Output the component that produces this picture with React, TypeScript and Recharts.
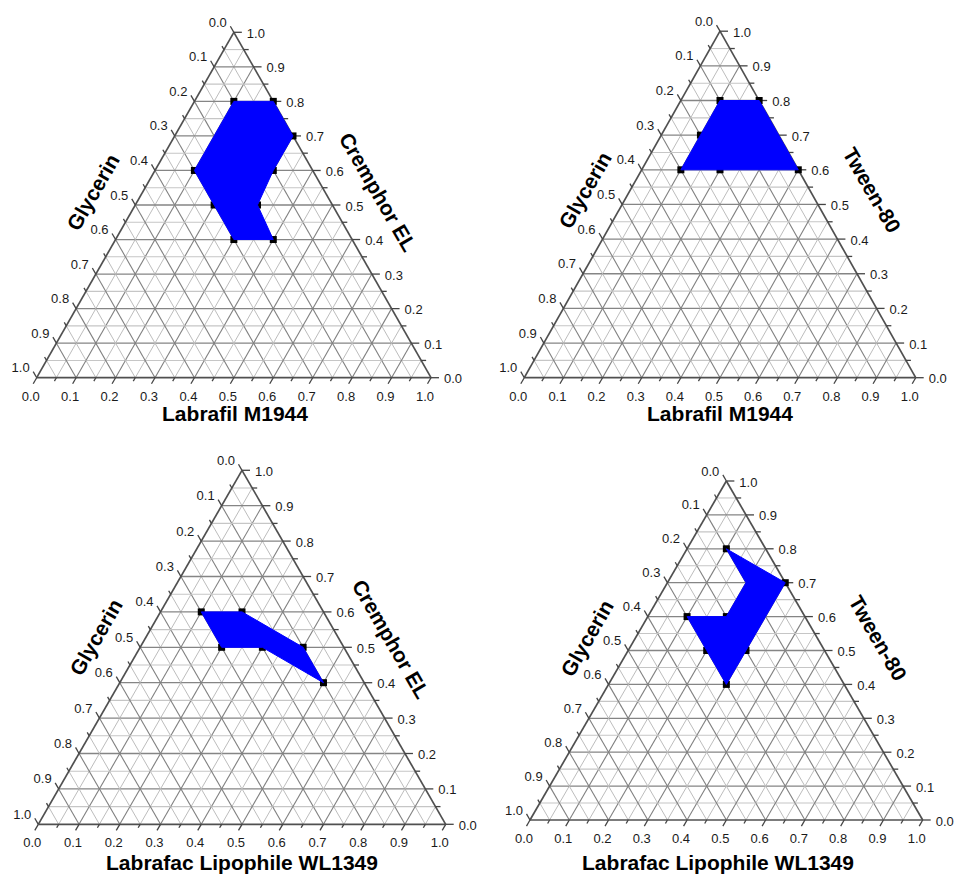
import React from 'react';
import { ScatterChart, Scatter, XAxis, YAxis } from 'recharts';

// ---------- data ----------
const TICK_VALUES = [0, 0.05, 0.1, 0.15, 0.2, 0.25, 0.3, 0.35, 0.4, 0.45, 0.5, 0.55, 0.6, 0.65, 0.7, 0.75, 0.8, 0.85, 0.9, 0.95, 1];
const TICK_LABELS = ['0.0', '0.1', '0.2', '0.3', '0.4', '0.5', '0.6', '0.7', '0.8', '0.9', '1.0'];

const OIL_1 = 'Labrafil M1944';
const OIL_2 = 'Labrafac Lipophile WL1349';
const SURF_1 = 'Cremphor EL';
const SURF_2 = 'Tween-80';
const COSURF = 'Glycerin';

type Comp = { oil: number; surf: number };

// Panel A: Labrafil M1944 / Cremphor EL / Glycerin
const REGION_A: Comp[] = [
  { oil: 0.1, surf: 0.8 }, { oil: 0.2, surf: 0.8 }, { oil: 0.3, surf: 0.7 }, { oil: 0.3, surf: 0.6 },
  { oil: 0.31, surf: 0.5 }, { oil: 0.4, surf: 0.4 }, { oil: 0.3, surf: 0.4 }, { oil: 0.2, surf: 0.5 },
  { oil: 0.1, surf: 0.6 },
];
const MARKERS_A: Comp[] = [
  { oil: 0.1, surf: 0.8 }, { oil: 0.2, surf: 0.8 }, { oil: 0.3, surf: 0.7 }, { oil: 0.3, surf: 0.6 },
  { oil: 0.1, surf: 0.6 }, { oil: 0.2, surf: 0.5 }, { oil: 0.31, surf: 0.5 }, { oil: 0.3, surf: 0.4 },
  { oil: 0.4, surf: 0.4 },
];

// Panel B: Labrafil M1944 / Tween-80 / Glycerin
const REGION_B: Comp[] = [
  { oil: 0.1, surf: 0.8 }, { oil: 0.2, surf: 0.8 }, { oil: 0.4, surf: 0.6 }, { oil: 0.2, surf: 0.6 },
  { oil: 0.1, surf: 0.6 }, { oil: 0.1, surf: 0.7 },
];
const MARKERS_B: Comp[] = [
  { oil: 0.1, surf: 0.8 }, { oil: 0.2, surf: 0.8 }, { oil: 0.1, surf: 0.7 }, { oil: 0.1, surf: 0.6 },
  { oil: 0.2, surf: 0.6 }, { oil: 0.4, surf: 0.6 },
];

// Panel C: Labrafac Lipophile WL1349 / Cremphor EL / Glycerin
const REGION_C: Comp[] = [
  { oil: 0.1, surf: 0.6 }, { oil: 0.2, surf: 0.6 }, { oil: 0.4, surf: 0.5 }, { oil: 0.5, surf: 0.4 },
  { oil: 0.3, surf: 0.5 }, { oil: 0.2, surf: 0.5 },
];
const MARKERS_C: Comp[] = [
  { oil: 0.1, surf: 0.6 }, { oil: 0.2, surf: 0.6 }, { oil: 0.4, surf: 0.5 }, { oil: 0.5, surf: 0.4 },
  { oil: 0.3, surf: 0.5 }, { oil: 0.2, surf: 0.5 },
];

// Panel D: Labrafac Lipophile WL1349 / Tween-80 / Glycerin
const REGION_D: Comp[] = [
  { oil: 0.1, surf: 0.8 }, { oil: 0.3, surf: 0.7 }, { oil: 0.3, surf: 0.4 }, { oil: 0.2, surf: 0.5 },
  { oil: 0.1, surf: 0.6 }, { oil: 0.2, surf: 0.6 }, { oil: 0.2, surf: 0.7 },
];
const MARKERS_D: Comp[] = [
  { oil: 0.1, surf: 0.8 }, { oil: 0.3, surf: 0.7 }, { oil: 0.1, surf: 0.6 }, { oil: 0.2, surf: 0.6 },
  { oil: 0.2, surf: 0.5 }, { oil: 0.3, surf: 0.5 }, { oil: 0.3, surf: 0.4 },
];

// ---------- layout (pixels) ----------
type Layout = {
  ox: number; oy: number; cw: number; ch: number;
  lx: number; base: number; w: number; h: number;
  leftTitle: [number, number]; rightTitle: [number, number]; bottomTitle: [number, number];
};

const LAYOUT_A: Layout = { ox: 0, oy: 0, cw: 478, ch: 438, lx: 36.7, base: 377.7, w: 394.3, h: 345.4,
  leftTitle: [93, 192], rightTitle: [378, 192], bottomTitle: [235, 421] };
const LAYOUT_B: Layout = { ox: 478, oy: 0, cw: 479, ch: 438, lx: 524.3, base: 377.7, w: 391.4, h: 346.5,
  leftTitle: [107, 190], rightTitle: [394, 190], bottomTitle: [242, 421] };
const LAYOUT_C: Layout = { ox: 0, oy: 438, cw: 478, ch: 437, lx: 38.3, base: 824.3, w: 407.4, h: 354,
  leftTitle: [96, 199], rightTitle: [391, 201], bottomTitle: [242, 432] };
const LAYOUT_D: Layout = { ox: 478, oy: 438, cw: 479, ch: 437, lx: 530, base: 820, w: 392.7, h: 339,
  leftTitle: [109, 200], rightTitle: [400, 200], bottomTitle: [240, 432] };

const FONT = '"Liberation Sans", Arial, Helvetica, sans-serif';

// ternary composition -> cartesian data coordinates (x along base, y = surfactant fraction)
const toXY = (c: Comp) => ({ x: c.oil + c.surf / 2, y: c.surf });

type Seg = { a: Comp; b: Comp; stroke: string; width: number };

function buildSegments(): Seg[] {
  const segs: Seg[] = [];
  TICK_VALUES.forEach((v, i) => {
    if (v <= 0 || v >= 1) return;
    const major = i % 2 === 0;
    const hStroke = major ? '#858585' : '#c6c6c6';
    const dStroke = major ? '#808080' : '#bdbdbd';
    segs.push({ a: { oil: 0, surf: v }, b: { oil: 1 - v, surf: v }, stroke: hStroke, width: major ? 1.3 : 1.1 });
    segs.push({ a: { oil: v, surf: 0 }, b: { oil: v, surf: 1 - v }, stroke: dStroke, width: major ? 1.1 : 1 });
    segs.push({ a: { oil: 1 - v, surf: 0 }, b: { oil: 0, surf: 1 - v }, stroke: dStroke, width: major ? 1.1 : 1 });
  });
  const O = '#505050';
  segs.push({ a: { oil: 0, surf: 0 }, b: { oil: 1, surf: 0 }, stroke: O, width: 1.7 });
  segs.push({ a: { oil: 1, surf: 0 }, b: { oil: 0, surf: 1 }, stroke: O, width: 1.7 });
  segs.push({ a: { oil: 0, surf: 1 }, b: { oil: 0, surf: 0 }, stroke: O, width: 1.7 });
  return segs;
}

const SEGMENTS = buildSegments();
const SEGMENT_POINTS = SEGMENTS.flatMap((s) => [toXY(s.a), toXY(s.b)]);

type TickPt = { x: number; y: number; edge: 'bottom' | 'right' | 'left'; major: boolean; label: string };

function buildTicks(): TickPt[] {
  const out: TickPt[] = [];
  TICK_VALUES.forEach((v, i) => {
    const major = i % 2 === 0;
    const label = major ? TICK_LABELS[i / 2] : '';
    out.push({ ...toXY({ oil: v, surf: 0 }), edge: 'bottom', major, label });
    out.push({ ...toXY({ oil: 1 - v, surf: v }), edge: 'right', major, label });
    out.push({ ...toXY({ oil: 0, surf: 1 - v }), edge: 'left', major, label });
  });
  return out;
}
const TICKS = buildTicks();

const Nothing = () => <g />;

const renderGrid = (props: any) => {
  const pts = props.points || [];
  const lines = [];
  for (let i = 0; i < SEGMENTS.length; i++) {
    const p = pts[2 * i];
    const q = pts[2 * i + 1];
    if (!p || !q) continue;
    lines.push(
      <line key={i} x1={p.x} y1={p.y} x2={q.x} y2={q.y} stroke={SEGMENTS[i].stroke}
        strokeWidth={SEGMENTS[i].width} />
    );
  }
  return <g>{lines}</g>;
};

const renderRegion = (props: any) => {
  const pts = (props.points || []).map((p: any) => `${p.x},${p.y}`).join(' ');
  return <polygon points={pts} fill="#0000ff" stroke="#0000ff" strokeWidth={1} strokeLinejoin="miter" />;
};

const renderMarker = (props: any) => {
  const { cx, cy } = props;
  if (cx == null || cy == null) return <g />;
  return <rect x={cx - 3.5} y={cy - 3.5} width={7} height={7} fill="#000" />;
};

const renderTick = (props: any) => {
  const { cx, cy, payload } = props;
  if (cx == null || cy == null) return <g />;
  const L = payload.major ? 7 : 4;
  const tickStyle = { stroke: '#444', strokeWidth: 1.3 };
  const txt = { fontFamily: FONT, fontSize: 13, fill: '#1a1a1a' };
  if (payload.edge === 'bottom') {
    return (
      <g>
        <line x1={cx} y1={cy} x2={cx - 0.5 * L} y2={cy + 0.866 * L} {...tickStyle} />
        {payload.label && (
          <text x={cx - 6} y={cy + 18.5} textAnchor="middle" dominantBaseline="central" {...txt}>{payload.label}</text>
        )}
      </g>
    );
  }
  if (payload.edge === 'right') {
    return (
      <g>
        <line x1={cx} y1={cy} x2={cx + L + 1} y2={cy} {...tickStyle} />
        {payload.label && (
          <text x={cx + 13} y={cy + 1} textAnchor="start" dominantBaseline="central" {...txt}>{payload.label}</text>
        )}
      </g>
    );
  }
  return (
    <g>
      <line x1={cx} y1={cy} x2={cx - 0.5 * L} y2={cy - 0.866 * L} {...tickStyle} />
      {payload.label && (
        <text x={cx - 7} y={cy - 10} textAnchor="end" dominantBaseline="central" {...txt}>{payload.label}</text>
      )}
    </g>
  );
};

type PanelProps = {
  layout: Layout; region: Comp[]; markers: Comp[];
  oilName: string; surfName: string; cosurfName: string;
};

function TernaryPanel({ layout, region, markers, oilName, surfName, cosurfName }: PanelProps) {
  const { ox, oy, cw, ch, lx, base, w, h } = layout;
  const xmin = -(lx - ox) / w;
  const xmax = xmin + cw / w;
  const ymax = (base - oy) / h;
  const ymin = ymax - ch / h;
  const regionData = region.map(toXY);
  const markerData = markers.map(toXY);
  const titleStyle = { fontFamily: FONT, fontSize: 21, fontWeight: 700, fill: '#000' } as const;
  const [lxT, lyT] = layout.leftTitle;
  const [rxT, ryT] = layout.rightTitle;
  const [bxT, byT] = layout.bottomTitle;
  return (
    <div style={{ position: 'absolute', left: ox, top: oy, width: cw, height: ch }}>
      <ScatterChart width={cw} height={ch} margin={{ top: 0, right: 0, bottom: 0, left: 0 }}>
        <XAxis type="number" dataKey="x" domain={[xmin, xmax]} hide allowDataOverflow />
        <YAxis type="number" dataKey="y" domain={[ymin, ymax]} hide allowDataOverflow />
        <Scatter data={SEGMENT_POINTS} line={renderGrid} lineType="joint" shape={Nothing} isAnimationActive={false} />
        <Scatter data={TICKS} shape={renderTick} isAnimationActive={false} />
        <Scatter data={markerData} shape={renderMarker} isAnimationActive={false} />
        <Scatter data={regionData} line={renderRegion} lineType="joint" shape={Nothing} isAnimationActive={false} />
      </ScatterChart>
      <svg width={cw} height={ch} style={{ position: 'absolute', left: 0, top: 0, pointerEvents: 'none' }}>
        <text x={lxT} y={lyT} textAnchor="middle" dominantBaseline="central" transform={`rotate(-60 ${lxT} ${lyT})`} {...titleStyle}>{cosurfName}</text>
        <text x={rxT} y={ryT} textAnchor="middle" dominantBaseline="central" transform={`rotate(60 ${rxT} ${ryT})`} {...titleStyle}>{surfName}</text>
        <text x={bxT} y={byT} textAnchor="middle" {...titleStyle}>{oilName}</text>
      </svg>
    </div>
  );
}

export default function App() {
  return (
    <div style={{ position: 'absolute', left: 0, top: 0, width: 957, height: 875, background: '#fff', overflow: 'hidden' }}>
      <TernaryPanel layout={LAYOUT_A} region={REGION_A} markers={MARKERS_A} oilName={OIL_1} surfName={SURF_1} cosurfName={COSURF} />
      <TernaryPanel layout={LAYOUT_B} region={REGION_B} markers={MARKERS_B} oilName={OIL_1} surfName={SURF_2} cosurfName={COSURF} />
      <TernaryPanel layout={LAYOUT_C} region={REGION_C} markers={MARKERS_C} oilName={OIL_2} surfName={SURF_1} cosurfName={COSURF} />
      <TernaryPanel layout={LAYOUT_D} region={REGION_D} markers={MARKERS_D} oilName={OIL_2} surfName={SURF_2} cosurfName={COSURF} />
    </div>
  );
}
